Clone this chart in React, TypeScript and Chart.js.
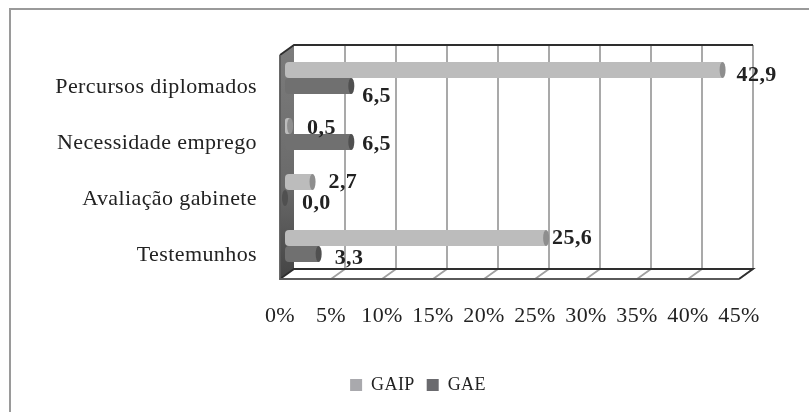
import React, { useEffect, useRef } from "react";
import { Chart, registerables } from "chart.js";

Chart.register(...registerables);

const categories = ["Percursos diplomados", "Necessidade emprego", "Avaliação gabinete", "Testemunhos"];
const gaip = [42.9, 0.5, 2.7, 25.6];
const gae = [6.5, 6.5, 0.0, 3.3];
const seriesNames = ["GAIP", "GAE"];
const xTicks = [0, 5, 10, 15, 20, 25, 30, 35, 40, 45];
const legendColors = ["#a9a9ad", "#6a6a6e"];

const FONT = "'Liberation Serif', serif";
const DX = 14; // depth, x
const DY = 10; // depth, y
const OVER = 5; // frame overhang above/below the category band
const BAR_SHIFT = 5;

// label nudges per dataset / per category, as [dx, dy]
const labelNudge: [number, number][][] = [
  [[14, 5], [17, 2], [16, 0], [6, 0]],
  [[11, 10], [11, 2], [17, 5], [16, 4]],
];

const stopsLight: [number, string][] = [[0, "#a4a4a4"], [0.12, "#bcbcbc"], [0.45, "#c2c2c2"], [0.75, "#adadad"], [1, "#8c8c8c"]];
const stopsDark: [number, string][] = [[0, "#757575"], [0.3, "#707070"], [0.7, "#5e5e5e"], [1, "#484848"]];

const frame3d = {
  id: "frame3d",
  beforeUpdate(chart: any) {
    chart.ctx.letterSpacing = "0.4px";
  },
  afterLayout(chart: any) {
    // let the long category labels run past the padded layout box
    chart.scales.y.left = 0;
  },
  beforeDatasetsDraw(chart: any) {
    const { ctx, scales, chartArea } = chart;
    const x = scales.x;
    const top = chartArea.top - OVER;
    const bottom = chartArea.bottom + OVER;
    const left = x.getPixelForValue(0);
    const right = x.getPixelForValue(45);
    ctx.save();
    // left wall
    const wall = ctx.createLinearGradient(0, top, 0, bottom);
    wall.addColorStop(0, "#7c7c7c");
    wall.addColorStop(0.6, "#6a6a6a");
    wall.addColorStop(1, "#444444");
    ctx.fillStyle = wall;
    ctx.beginPath();
    ctx.moveTo(left, top + DY);
    ctx.lineTo(left + DX, top);
    ctx.lineTo(left + DX, bottom - DY);
    ctx.lineTo(left, bottom);
    ctx.closePath();
    ctx.fill();
    // grid lines on back wall and floor
    ctx.strokeStyle = "#a0a0a0";
    ctx.lineWidth = 1.8;
    xTicks.slice(1).forEach((t) => {
      const px = x.getPixelForValue(t);
      ctx.beginPath();
      ctx.moveTo(px + DX, top);
      ctx.lineTo(px + DX, bottom - DY);
      ctx.lineTo(px, bottom);
      ctx.stroke();
    });
    // top and back floor lines
    ctx.strokeStyle = "#2e2e2e";
    ctx.lineWidth = 1.8;
    ctx.beginPath();
    ctx.moveTo(left, top + DY);
    ctx.lineTo(left + DX, top);
    ctx.lineTo(right + DX, top);
    ctx.stroke();
    ctx.beginPath();
    ctx.moveTo(left, bottom);
    ctx.lineTo(left + DX, bottom - DY);
    ctx.lineTo(right + DX, bottom - DY);
    ctx.lineTo(right, bottom);
    ctx.stroke();
    ctx.strokeStyle = "#5a5a5a";
    ctx.beginPath();
    ctx.moveTo(left, top + DY);
    ctx.lineTo(left, bottom);
    ctx.lineTo(right, bottom);
    ctx.stroke();
    ctx.restore();
  },
  beforeDatasetDraw(chart: any) {
    chart.ctx.save();
    chart.ctx.translate(BAR_SHIFT, 0);
  },
  afterDatasetDraw(chart: any, args: any) {
    const { ctx } = chart;
    const meta = chart.getDatasetMeta(args.index);
    const cap = args.index === 0 ? "#8e8e8e" : "#505050";
    meta.data.forEach((bar: any) => {
      ctx.fillStyle = cap;
      ctx.beginPath();
      ctx.ellipse(bar.x, bar.y, 3, bar.height / 2, 0, 0, Math.PI * 2);
      ctx.fill();
    });
    ctx.restore();
  },
  afterDatasetsDraw(chart: any) {
    const { ctx } = chart;
    ctx.save();
    ctx.font = `bold 22px ${FONT}`;
    ctx.fillStyle = "#222222";
    ctx.textAlign = "left";
    ctx.textBaseline = "middle";
    chart.data.datasets.forEach((ds: any, i: number) => {
      chart.getDatasetMeta(i).data.forEach((bar: any, j: number) => {
        const label = ds.data[j].toFixed(1).replace(".", ",");
        const [dx, dy] = labelNudge[i][j];
        ctx.fillText(label, bar.x + BAR_SHIFT + dx, bar.y + dy);
      });
    });
    ctx.restore();
  },
};

export default function App() {
  const ref = useRef<HTMLCanvasElement>(null);
  useEffect(() => {
    const makeFill = (stops: [number, string][]) => (c: any) => {
      const el = c.element;
      if (!el || el.y === undefined || !el.height) return stops[1][1];
      const g = c.chart.ctx.createLinearGradient(0, el.y - el.height / 2, 0, el.y + el.height / 2);
      stops.forEach(([o, col]) => g.addColorStop(o, col));
      return g;
    };
    const chart = new Chart(ref.current!, {
      type: "bar",
      data: {
        labels: categories,
        datasets: [
          { label: seriesNames[0], data: gaip, backgroundColor: makeFill(stopsLight), borderRadius: { topLeft: 4, bottomLeft: 4 }, borderSkipped: false },
          { label: seriesNames[1], data: gae, backgroundColor: makeFill(stopsDark), borderRadius: { topLeft: 4, bottomLeft: 4 }, borderSkipped: false },
        ],
      },
      options: {
        indexAxis: "y",
        animation: false,
        responsive: false,
        layout: { padding: { left: 97, right: 70, top: 50, bottom: 8 } },
        datasets: { bar: { categoryPercentage: 0.571, barPercentage: 1 } },
        scales: {
          x: {
            min: 0,
            max: 45,
            grid: { display: false },
            border: { display: false },
            afterFit: (s: any) => { s.height = 90; },
            ticks: {
              stepSize: 5,
              padding: 21,
              maxRotation: 0,
              color: "#222222",
              font: { family: FONT, size: 22 },
              callback: (v: any) => `${v}%`,
            },
          },
          y: {
            grid: { display: false },
            border: { display: false },
            afterFit: (s: any) => { s.width = 183; },
            ticks: { padding: 15, labelOffset: 9, color: "#222222", font: { family: FONT, size: 22 } },
          },
        },
        plugins: {
          tooltip: { enabled: false },
          legend: {
            position: "bottom",
            labels: {
              boxWidth: 12,
              boxHeight: 12,
              padding: 12,
              color: "#222222",
              font: { family: FONT, size: 18 },
              generateLabels: (c: any) =>
                Chart.defaults.plugins.legend.labels.generateLabels(c).map((it: any, i: number) => ({
                  ...it,
                  fillStyle: legendColors[i],
                  strokeStyle: legendColors[i],
                  lineWidth: 0,
                })),
            },
          },
        },
      },
      plugins: [frame3d],
    } as any);
    return () => chart.destroy();
  }, []);
  return (
    <div style={{ position: "fixed", left: 0, top: 0, width: 809, height: 412, background: "#fff", overflow: "hidden" }}>
      <canvas ref={ref} width={809} height={412} style={{ display: "block" }} />
      <div style={{ position: "absolute", left: 9, top: 8, width: 820, height: 420, border: "2px solid #9a9a9a", boxSizing: "border-box", pointerEvents: "none" }} />
    </div>
  );
}
